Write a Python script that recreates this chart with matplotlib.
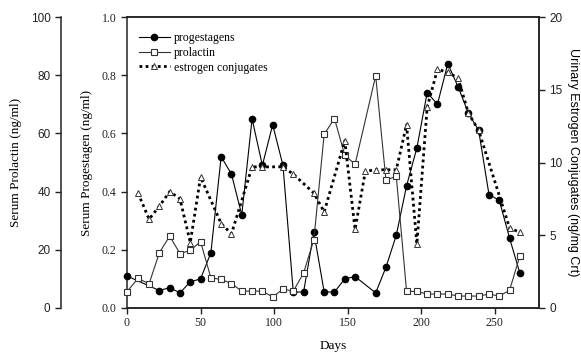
import matplotlib
matplotlib.use('Agg')
import matplotlib.pyplot as plt

# Data
prog_days = [0, 22, 29, 36, 43, 50, 57, 64, 71, 78, 85, 92, 99, 106, 113, 120, 127, 134, 141,
             148, 155, 169, 176, 183, 190, 197, 204, 211, 218, 225, 232, 239, 246, 253, 260, 267]
progestagens = [0.11, 0.06, 0.07, 0.052, 0.09, 0.10, 0.19, 0.52, 0.46, 0.32, 0.65, 0.49, 0.63, 0.49,
                0.055, 0.055, 0.26, 0.055, 0.055, 0.10, 0.108, 0.052, 0.14, 0.25, 0.42, 0.55, 0.74,
                0.70, 0.84, 0.76, 0.67, 0.61, 0.39, 0.37, 0.24, 0.12]

prl_days = [0, 7.5, 15, 22, 29, 36, 43, 50, 57, 64, 71, 78, 85, 92, 99, 106, 113, 120, 127, 134,
            141, 148, 155, 169, 176, 183, 190, 197, 204, 211, 218, 225, 232, 239, 246, 253, 260, 267]
prolactin = [5.6, 10.2, 8.3, 19, 24.7, 18.7, 19.8, 22.8, 10.4, 9.8, 8.4, 5.8, 5.8, 5.8, 3.8, 6.5,
             5.8, 12, 23.5, 59.7, 65.1, 52.5, 49.4, 79.8, 43.9, 45.3, 5.7, 5.7, 4.8, 4.8, 4.8, 4.1,
             4.1, 4.1, 4.8, 4.1, 6.1, 17.9]

est_days = [7.5, 15, 22, 29, 36, 43, 50, 64, 71, 85, 92, 106, 113, 127, 134, 148, 155, 162, 169,
            176, 183, 190, 197, 204, 211, 218, 225, 232, 239, 260, 267]
estrogen = [7.9, 6.1, 7.0, 8.0, 7.5, 4.5, 9.0, 5.8, 5.1, 9.7, 9.7, 9.7, 9.2, 7.9, 6.6, 11.5, 5.4,
            9.4, 9.5, 9.5, 9.5, 12.6, 4.4, 13.8, 16.4, 16.2, 15.8, 13.4, 12.2, 5.5, 5.2]

serif = 'Liberation Serif'
sans = 'Liberation Sans'

fig = plt.figure(figsize=(5.81, 3.54), dpi=100)
ax = fig.add_axes([127 / 581, 46 / 354, 412 / 581, 291 / 354])
ax_prl = ax.twinx()
ax_est = ax.twinx()

# progestagens on main axis
l1, = ax.plot(prog_days, progestagens, color='black', lw=0.8, marker='o', ms=4.5,
              mfc='black', mec='black', clip_on=False, zorder=3, label='progestagens')
# prolactin on outer left axis
l2, = ax_prl.plot(prl_days, prolactin, color='#333333', lw=0.8, marker='s', ms=4.3,
                  mfc='white', mec='#333333', mew=0.8, clip_on=False, label='prolactin')
# estrogen conjugates on right axis
l3, = ax_est.plot(est_days, estrogen, color='black', lw=2.0, ls=(0, (1, 1.2)), marker='^', ms=4.5,
                  mfc='white', mec='#333333', mew=0.7, clip_on=False, label='estrogen conjugates')

ax.set_xlim(0, 280)
ax.set_ylim(0, 1.0)
ax_prl.set_ylim(0, 100)
ax_est.set_ylim(0, 20)

ax.set_xticks([0, 50, 100, 150, 200, 250])
ax.set_yticks([0.0, 0.2, 0.4, 0.6, 0.8, 1.0])
ax.set_yticklabels(['0.0', '0.2', '0.4', '0.6', '0.8', '1.0'])
ax_prl.set_yticks([0, 20, 40, 60, 80, 100])
ax_est.set_yticks([0, 5, 10, 15, 20])

for a in (ax, ax_prl, ax_est):
    for s in a.spines.values():
        s.set_linewidth(1.1)
        s.set_color('#222222')
    a.tick_params(direction='out', length=4, width=1.0, colors='#222222')

ax.tick_params(labelsize=8.5)
ax.tick_params(axis='x', pad=2.5)
for t in ax.get_xticklabels() + ax.get_yticklabels():
    t.set_fontfamily(serif)

# outer left axis for prolactin
ax_prl.spines['left'].set_visible(True)
ax_prl.spines['left'].set_position(('axes', -66 / 412))
ax_prl.spines['right'].set_visible(False)
ax_prl.spines['top'].set_visible(False)
ax_prl.spines['bottom'].set_visible(False)
ax_prl.yaxis.set_label_position('left')
ax_prl.yaxis.set_ticks_position('left')
ax_prl.tick_params(labelsize=8.5)
for t in ax_prl.get_yticklabels():
    t.set_fontfamily(sans)

ax_est.spines['left'].set_visible(False)
ax_est.tick_params(labelsize=8.5)
for t in ax_est.get_yticklabels():
    t.set_fontfamily(sans)

ax.set_xlabel('Days', family=serif, fontsize=9.5, labelpad=8)
ax.set_ylabel('Serum Progestagen (ng/ml)', family=serif, fontsize=9.5, labelpad=6)
ax_prl.set_ylabel('Serum Prolactin (ng/ml)', family=serif, fontsize=9.5, labelpad=6)
ax_est.set_ylabel('Urinary Estrogen Conjugates (ng/mg Crt)', family=sans, fontsize=9,
                  rotation=270, labelpad=12)

ax.legend(handles=[l1, l2, l3], loc='upper left', bbox_to_anchor=(0.0, 0.99), frameon=False,
          prop={'family': serif, 'size': 8.5}, handlelength=2.6, handletextpad=0.4,
          labelspacing=0.25, borderaxespad=0.6)

fig.savefig('out.png', dpi=100)
